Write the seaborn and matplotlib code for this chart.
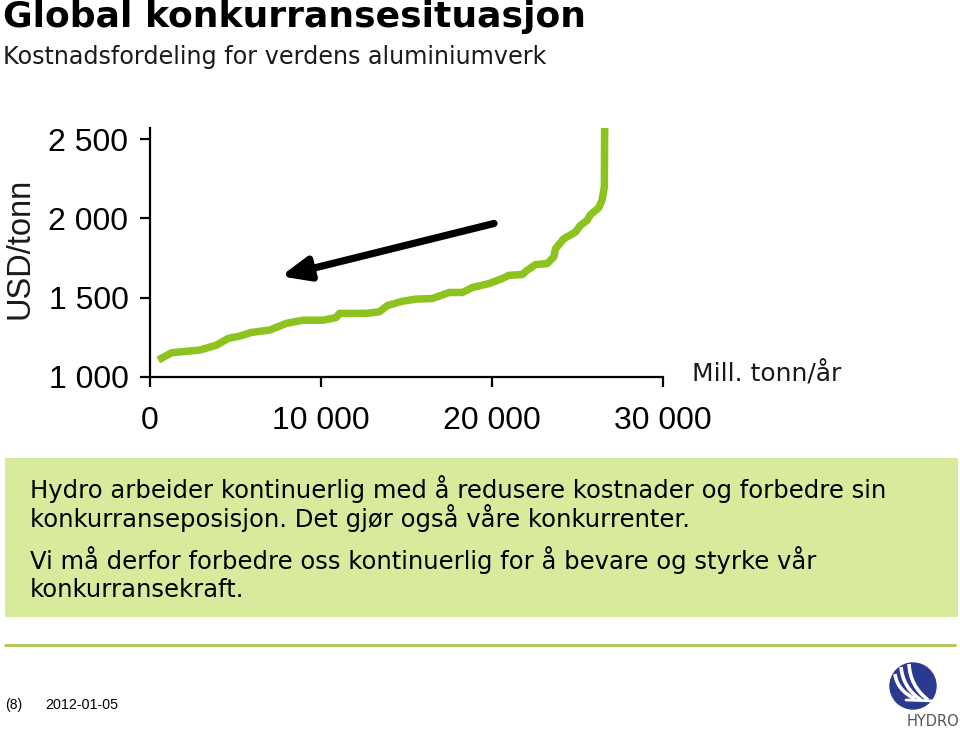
import numpy as np
import matplotlib
matplotlib.use("Agg")
import matplotlib.pyplot as plt
import seaborn as sns
from matplotlib.patches import Rectangle, Circle
from matplotlib.path import Path
from matplotlib.patches import PathPatch

# Cost curve (cumulative capacity, cost)
capacity = [484, 1265, 2915, 3889, 4566, 5248, 5930, 6997, 7971, 8939, 10105,
            10886, 11079, 12636, 13411, 13895, 14770, 15551, 16519, 17493, 18268,
            18851, 19825, 20601, 20991, 21767, 22058, 22548, 23224, 23615, 23714,
            24198, 24880, 25172, 25557, 25755, 26239, 26431, 26571, 26589]
cost = [1107, 1153, 1170, 1201, 1243, 1258, 1281, 1296, 1338, 1358, 1358,
        1375, 1401, 1401, 1411, 1451, 1478, 1491, 1495, 1533, 1533,
        1564, 1589, 1621, 1641, 1646, 1673, 1709, 1715, 1757, 1809,
        1872, 1914, 1956, 1987, 2023, 2067, 2113, 2197, 2600]

y_ticks = [1000, 1500, 2000, 2500]
y_labels = ["1 000", "1 500", "2 000", "2 500"]
x_ticks = [0, 10000, 20000, 30000]
x_labels = ["0", "10 000", "20 000", "30 000"]

arrow_start = (20117, 1968)
arrow_end = (7650, 1635)

sns.set_style("ticks")
plt.rcParams['font.family'] = ['Liberation Sans', 'DejaVu Sans']
plt.rcParams['text.color'] = 'black'

fig = plt.figure(figsize=(9.6, 7.33), dpi=100)
ax = fig.add_axes([150 / 960, 356 / 733, 513 / 960, 249 / 733])

sns.lineplot(x=capacity, y=cost, ax=ax, color="#8cc31e", lw=5.4,
             solid_joinstyle="round", solid_capstyle="butt", sort=False)

ax.set_xlim(0, 30000)
ax.set_ylim(1000, 2570)
ax.set_xticks(x_ticks)
ax.set_xticklabels(x_labels, fontsize=23)
ax.set_yticks(y_ticks)
ax.set_yticklabels(y_labels, fontsize=23)
ax.tick_params(axis="x", length=7, width=1.6, pad=14, colors="black")
ax.tick_params(axis="y", length=7, width=1.6, pad=8.5, colors="black")
sns.despine(ax=ax)
for s in ["left", "bottom"]:
    ax.spines[s].set_linewidth(1.6)
    ax.spines[s].set_color("black")
ax.set_xlabel("")
ax.set_ylabel("")

ax.annotate("", xy=arrow_end, xytext=arrow_start,
            arrowprops=dict(arrowstyle="-|>,head_length=0.75,head_width=0.32",
                            lw=5.2, color="black", mutation_scale=22,
                            shrinkA=0, shrinkB=0))

# Titles and axis texts
fig.text(3 / 960, 1 - 0 / 733, "Global konkurransesituasjon", fontsize=26,
         fontweight="bold", va="top", ha="left", family=["DejaVu Sans"])
fig.text(3 / 960, 1 - 57 / 733, "Kostnadsfordeling for verdens aluminiumverk",
         fontsize=17.2, va="center", ha="left", color="#1a1a1a",
         family=["DejaVu Sans"])
fig.text(20 / 960, 1 - 248 / 733, "USD/tonn", fontsize=23.5, rotation=90,
         va="center", ha="center", color="#1a1a1a")
fig.text(692 / 960, 1 - 374 / 733, "Mill. tonn/år", fontsize=18,
         family=["DejaVu Sans"], va="center", ha="left", color="#1a1a1a")

# Green message box
fig.patches.append(Rectangle((5 / 960, 1 - 617 / 733), 953 / 960, 159 / 733,
                             transform=fig.transFigure, facecolor="#d8ea9c",
                             edgecolor="none", zorder=0))
box_lines = [
    ("Hydro arbeider kontinuerlig med å redusere kostnader og forbedre sin", 489),
    ("konkurranseposisjon. Det gjør også våre konkurrenter.", 518),
    ("Vi må derfor forbedre oss kontinuerlig for å bevare og styrke vår", 560),
    ("konkurransekraft.", 590),
]
for txt, yy in box_lines:
    fig.text(30 / 960, 1 - yy / 733, txt, fontsize=17.5, family=["DejaVu Sans"],
             va="center", ha="left", color="black")

# Divider line
fig.add_artist(plt.Line2D([5 / 960, 955 / 960], [1 - 645 / 733, 1 - 645 / 733],
                          transform=fig.transFigure, color="#a9c94f", lw=2))

# Footer
fig.text(5 / 960, 1 - 705 / 733, "(8)", fontsize=10, va="center", ha="left")
fig.text(45 / 960, 1 - 705 / 733, "2012-01-05", fontsize=10.3, va="center", ha="left")

# Logo (pixel coordinates)
lax = fig.add_axes([885 / 960, 0, 75 / 960, 78 / 733])
lax.set_xlim(885, 960)
lax.set_ylim(733, 655)
lax.axis("off")
lax.add_patch(Circle((913, 686), 23, color="#2b3990"))
stripes = [
    [(895, 674), (897, 690), (915, 699)],
    [(901, 667), (903, 688), (921, 700)],
    [(909, 664), (910, 686), (928, 700)],
]
for pts in stripes:
    path = Path(pts, [Path.MOVETO, Path.CURVE3, Path.CURVE3])
    lax.add_patch(PathPatch(path, facecolor="none", edgecolor="white", lw=2.6))
lax.plot([906, 936], [700, 701], color="white", lw=2)
lax.text(933, 721, "HYDRO", fontsize=10.5, color="#555555", ha="center",
         va="center", family=["DejaVu Sans"])

fig.savefig("out.png", dpi=100)
